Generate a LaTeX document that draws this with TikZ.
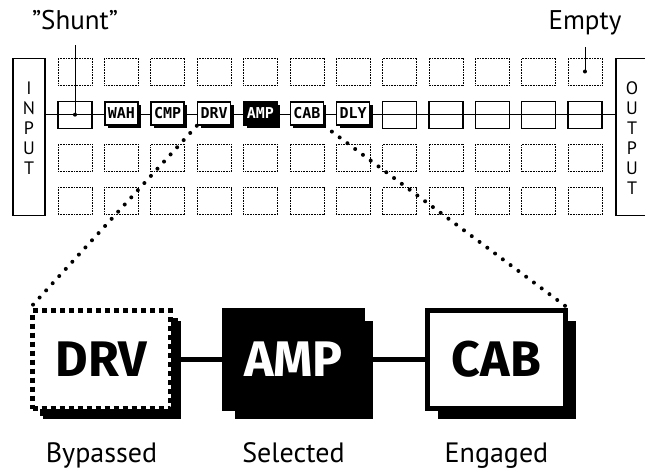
\documentclass[tikz,border=0pt]{standalone}
\usepackage{fontspec}
\setmainfont{PT Sans}
\newfontfamily\blockfont{Fira Sans}
\newfontfamily\pixfont{DejaVu Sans Mono}
\usetikzlibrary{positioning,shadows}

\begin{document}
\begin{tikzpicture}[x=1pt, y=-1pt, node distance=49pt,
        % Define styles
        slot/.style={
        draw,
        densely dotted,
        line width=0.6pt,
        minimum width=34pt,
        minimum height=27pt,
        inner sep=0pt
        },
        shuntbox/.style={
        draw,
        line width=1.4pt,
        minimum width=34pt,
        minimum height=27pt,
        inner sep=0pt
        },
        fx/.style={
        draw,
        line width=1.6pt,
        fill=white,
        minimum width=33pt,
        minimum height=23pt,
        inner sep=0pt,
        font=\pixfont\bfseries\fontsize{15}{15}\selectfont,
        drop shadow={shadow xshift=3pt, shadow yshift=-3pt, fill=black, opacity=1}
        },
        iobox/.style={
        draw,
        line width=1.2pt,
        minimum width=32pt,
        minimum height=157pt,
        inner sep=0pt
        },
        iotext/.style={
        align=center,
        font=\fontsize{18}{20}\selectfont
        },
        bigbox/.style={
        draw,
        line width=5pt,
        fill=white,
        minimum width=138pt,
        minimum height=98pt,
        inner sep=0pt,
        font=\blockfont\bfseries\fontsize{50}{50}\selectfont,
        drop shadow={shadow xshift=10pt, shadow yshift=-10pt, fill=black, opacity=1}
        },
        tag/.style={font=\fontsize{27}{27}\selectfont},
        caption/.style={font=\fontsize{28}{28}\selectfont},
        link/.style={line width=4.5pt},
        dots/.style={line width=4pt, line cap=round, dash pattern=on 0pt off 9.7pt}
        ]
        \useasboundingbox (0,0) rectangle (645,469);

        % Grid
        \foreach \c in {0,...,11}
            \foreach \r in {1,3,4}
                \node[slot] (s-\c-\r) at (75+46.36*\c, 71.5+43.2*\r-43.2) {};
        \foreach \c in {0,7,8,9,10,11}
            \node[shuntbox] (s-\c-2) at (75+46.36*\c, 114.7) {};

        % In and out
        \node[iobox] (input) at (29,137) {};
        \node[iobox] (output) at (632,137) {};
        \node[iotext, below=20pt of input.north, anchor=north] (intext) {I\\N\\P\\U\\T};
        \node[iotext, below=20pt of output.north, anchor=north] (outtext) {O\\U\\T\\P\\U\\T};

        \draw[line width=1.2pt] (input.east |- s-0-2) -- (output.west |- s-0-2);

        % Chain
        \foreach \c/\t in {1/WAH,2/CMP,3/DRV,5/CAB,6/DLY}
            \node[fx] (fx-\t) at (75+46.36*\c, 113.5) {\t};
        \node[fx, fill=black, text=white] (fx-AMP) at (75+46.36*4, 113.5) {AMP};

        % Tags
        \coordinate (tagline) at (0,29);
        \node[tag, anchor=base] (shunt) at (s-0-2 |- tagline) {\symbol{34}Shunt\symbol{34}};
        \node[tag, anchor=base] (empty) at (s-11-1 |- tagline) {Empty};
        \draw[line width=0.9pt] ([yshift=-16pt]shunt.base) -- (s-0-2.center);
        \fill (s-0-2.center) circle (2pt);
        \draw[line width=0.9pt] ([yshift=-18pt]empty.base) -- (s-11-1.center);
        \fill (s-11-1.center) circle (2pt);

        % Close-up
        \node[bigbox, dash pattern=on 5pt off 4pt,
            drop shadow={shadow xshift=7pt, shadow yshift=-7pt, fill=black, opacity=1}] (drv) at (101.5,359.5) {DRV};
        \node[bigbox, fill=black, text=white, right=49pt of drv] (amp) {AMP};
        \node[bigbox, right=60pt of amp] (cab) {CAB};

        \draw[link] (drv) -- (amp);
        \draw[link] (amp) -- (cab);
        \draw[dots] (fx-DRV.south west) -- (drv.north west);
        \draw[dots] (fx-CAB.south east) -- (cab.north east);

        % Captions
        \coordinate (capline) at (0,462);
        \node[caption, anchor=base] (bypassed) at (drv |- capline) {Bypassed};
        \node[caption, anchor=base] (selected) at (amp |- capline) {Selected};
        \node[caption, anchor=base] (engaged) at (cab |- capline) {Engaged};
    \end{tikzpicture}
\end{document}
